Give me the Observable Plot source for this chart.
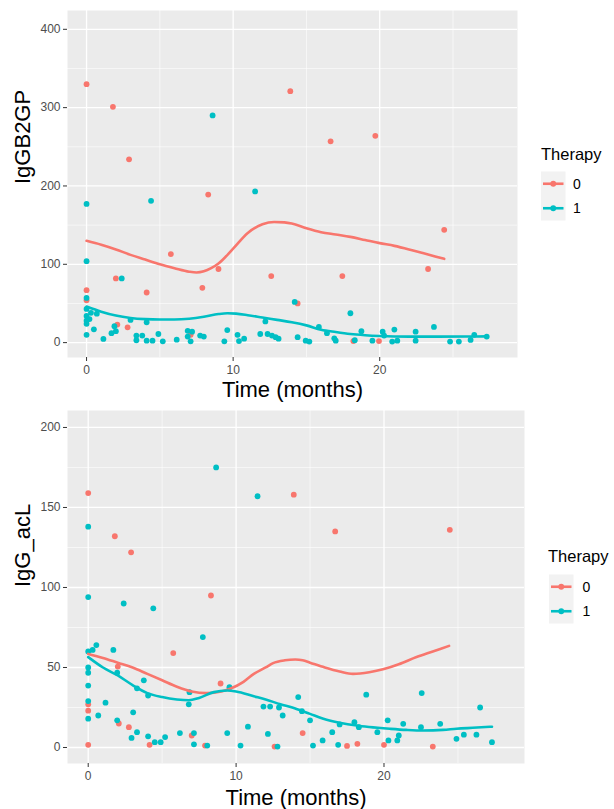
<!DOCTYPE html>
<html>
<head>
<meta charset="utf-8">
<script src="https://cdn.jsdelivr.net/npm/d3@7"></script>
<script src="https://cdn.jsdelivr.net/npm/@observablehq/plot@0.6"></script>
<style>
  body { margin: 0; background: white; }
  #wrap { position: relative; width: 614px; height: 809px; background: white; font-family: 'Liberation Sans', Arial, sans-serif; }
  .panel { position: absolute; left: 0; }
  .panel svg { display: block; }
  .legend { position: absolute; }
</style>
</head>
<body>
<div id="wrap">
  <div id="p1" class="panel" style="top:0"></div>
  <div id="p2" class="panel" style="top:400px"></div>
  <svg class="legend" id="lg1" style="left:530px;top:140px" width="84" height="90"></svg>
  <svg class="legend" id="lg2" style="left:537px;top:540px" width="77" height="90"></svg>
</div>
<script>
// ---------- data ----------
const therapyLevels = ["0", "1"];
const therapyColors = ["#F8766D", "#00BFC4"];
const xTitle = "Time (months)";
const legendTitle = "Therapy";

const xTicks = [0, 10, 20];
const xMinor = [5, 15, 25];

// Panel 1: IgGB2GP
const title1 = "IgGB2GP";
const y1Ticks = [0, 100, 200, 300, 400];
const y1Minor = [50, 150, 250, 350];
const igb2gp_ther0 = [[0,330],[1.8,301],[2.9,234],[8.3,189],[5.75,113],[9.0,94],[2.0,82],[7.9,70],[4.1,64],[0,67],[0,54],[2.1,23],[2.8,19.5],[7.1,10],[12.6,85],[13.9,321],[16.65,257],[19.7,264],[24.4,144],[23.3,94],[17.45,85],[14.4,50],[18.2,2],[19.95,2]];
const igb2gp_ther1 = [[0,177],[0,104],[0,57],[0,43],[0,34],[0,28],[0,24],[0,10],[0.2,30],[0.3,38],[0.7,37],[0.5,17],[1.15,4.7],[1.7,12],[2.0,14.6],[1.9,21],[2.4,82],[3.0,29],[3.4,9],[3.4,3],[3.8,9],[4.1,2.5],[4.1,26],[4.4,181],[4.5,2.5],[4.9,11],[5.2,1.7],[6.15,3.8],[6.9,15],[7.2,14],[6.9,7.7],[7.1,1.7],[7.75,9],[8.0,7.7],[8.6,290],[9.4,1.7],[9.6,16],[10.3,10],[10.4,2],[10.75,5],[11.5,193],[11.85,11],[12.2,27],[12.35,11],[12.65,9],[12.9,7],[13.1,5],[14.2,52],[14.4,7],[14.95,2.5],[15.2,1.3],[15.85,20],[16.4,12],[16.9,5.5],[17.0,2.5],[18.0,37.5],[18.3,3],[18.75,14.5],[19.5,2.5],[20.2,14],[20.3,9],[20.85,1.3],[21.0,16.6],[21.2,2.5],[22.45,14],[22.45,2.5],[23.7,20],[24.8,1.3],[25.4,1.3],[26.2,3.4],[26.45,10],[27.3,7.7]];
const igb2gp_fit0 = [[0,130],[1,125],[2,119],[3,112],[4,106],[5,100],[6,95],[7,90.5],[7.5,89.5],[8,91],[8.5,95],[9,101],[10,120],[11,140],[12,151],[12.8,154],[13.5,153.5],[14,152],[15,146],[16,141],[17,138],[18,135],[19,131],[20,127],[21,123.5],[22,119],[23,114],[24.4,107]];
const igb2gp_fit1 = [[0,46],[1,39.5],[2,34.5],[3,31.5],[4,30],[5,29.5],[6,29.5],[7,30.5],[8,33],[9,36.5],[9.6,37.5],[10.2,37],[11,35],[12,32],[13,29],[14,26],[15,22],[16,16.5],[17,13.5],[18,11],[19,9.5],[20,8.5],[21,7.9],[22,7.7],[24,7.7],[26,7.8],[27.3,8]];

// Panel 2: IgG_acL
const title2 = "IgG_acL";
const y2Ticks = [0, 50, 100, 150, 200];
const y2Minor = [25, 75, 125, 175];
const igacl_ther0 = [[0,159],[1.8,132],[2.9,122],[8.3,95],[5.75,59],[2.0,50.6],[8.95,40],[0,27],[0,23],[2.07,15],[2.75,12.7],[7.0,7.5],[0,1.7],[4.15,1.7],[7.9,1.2],[12.6,0.6],[13.9,158],[16.7,135],[24.45,136],[14.5,9],[17.5,1],[18.2,2.3],[20.0,1.7],[23.3,0.6]];
const igacl_ther1 = [[0,138],[0,94],[0,60],[0.3,61],[0.55,64],[0,50],[0,46.7],[0,38.7],[0,29],[0,18],[0.68,20],[1.17,28],[1.7,61],[1.96,46.7],[1.96,17],[2.4,90],[3.04,22],[2.93,6],[3.3,9.6],[3.3,37],[3.76,42],[4.05,32.5],[4.05,7],[4.4,87],[4.5,3.3],[4.9,3.3],[5.2,6.5],[6.2,9],[6.85,34.6],[6.8,27],[7.15,9],[7.15,2],[7.75,69],[8.05,1.2],[8.65,175],[9.4,9],[9.55,37.7],[10.3,1.2],[10.8,13],[11.45,157],[11.85,25.6],[12.15,8.5],[12.3,25.6],[12.8,0.6],[12.9,25],[13.15,20],[14.2,31.5],[14.45,22.7],[15.0,17],[15.2,1.2],[15.85,4.4],[16.5,9.6],[16.9,1.7],[17.0,14.4],[18.0,15.8],[18.3,12.7],[18.8,33],[19.55,9.6],[20.25,17],[20.3,4.4],[20.9,4.4],[21.0,7.5],[21.3,14.8],[22.5,12.7],[22.55,34],[23.8,14.8],[24.9,5.4],[25.4,8],[26.25,8],[26.5,25],[27.3,3.3]];
const igacl_fit0 = [[0,58.5],[1,56],[2,53],[3,50],[4,46],[5,42],[6,38],[7,35],[8,34],[9,35],[9.6,36.7],[10.5,41],[11.2,46],[12,50],[12.5,52.7],[13.3,54.5],[14,55],[14.5,54.5],[15,53],[16,50],[17,47.5],[17.9,46],[19,47],[20,49],[21,52],[22.2,56.5],[23.3,60],[24.4,63.5]];
const igacl_fit1 = [[0,56.5],[1,50],[2,45],[3,39],[4,34],[5,31.5],[6,30],[6.8,29.5],[7.5,31],[8.5,34.6],[9.4,35.6],[10,35],[11.2,32],[12,30],[13,27],[13.8,25],[15,21],[15.9,18],[17,15.5],[18.15,13.7],[19,12.8],[20.4,11.7],[21.5,11],[22.65,10.6],[24,11],[24.9,11.7],[26,12.3],[27.3,13]];

// ---------- helpers ----------
const rows = (pairs, therapy) => pairs.map(([t, v]) => ({t, v, therapy}));
const FONT = "'Liberation Sans', Arial, Helvetica, sans-serif";

function panel({title, pts0, pts1, fit0, fit1, yTicks, yMinor, xDomain, yDomain, height, margins, titleDy}) {
  const pts = [...rows(pts0, "0"), ...rows(pts1, "1")];
  const fit = [...rows(fit0, "0"), ...rows(fit1, "1")];
  return Plot.plot({
    width: 614,
    height,
    ...margins,
    style: {fontFamily: FONT, fontSize: "12px", background: "transparent", color: "#4D4D4D", overflow: "visible"},
    x: {domain: xDomain},
    y: {domain: yDomain},
    color: {domain: therapyLevels, range: therapyColors},
    marks: [
      Plot.frame({fill: "#EBEBEB", stroke: "none"}),
      Plot.ruleX(xMinor, {stroke: "white", strokeWidth: 0.6}),
      Plot.ruleY(yMinor, {stroke: "white", strokeWidth: 0.6}),
      Plot.ruleX(xTicks, {stroke: "white", strokeWidth: 1.3}),
      Plot.ruleY(yTicks, {stroke: "white", strokeWidth: 1.3}),
      Plot.dot(pts, {x: "t", y: "v", fill: "therapy", r: 2.9}),
      Plot.line(fit, {x: "t", y: "v", stroke: "therapy", z: "therapy", strokeWidth: 2.6, curve: "monotone-x"}),
      Plot.axisX({ticks: xTicks, tickSize: 4, tickPadding: 4, stroke: "#333333", fill: "#4D4D4D", fontSize: 12, label: null}),
      Plot.axisY({ticks: yTicks, tickSize: 4, tickPadding: 3, stroke: "#333333", fill: "#4D4D4D", fontSize: 12, label: null}),
      Plot.text([xTitle], {text: d => d, frameAnchor: "bottom", lineAnchor: "middle", dy: titleDy, fontSize: 22, fill: "black"}),
      Plot.text([title], {text: d => d, frameAnchor: "left", lineAnchor: "middle", rotate: -90, dx: -45, fontSize: 22, fill: "black"})
    ]
  });
}

document.getElementById("p1").append(panel({
  title: title1, pts0: igb2gp_ther0, pts1: igb2gp_ther1, fit0: igb2gp_fit0, fit1: igb2gp_fit1,
  yTicks: y1Ticks, yMinor: y1Minor, xDomain: [-1.3, 29.4], yDomain: [-19, 424],
  height: 400, margins: {marginLeft: 67, marginRight: 97, marginTop: 10, marginBottom: 43}, titleDy: 32
}));
document.getElementById("p2").append(panel({
  title: title2, pts0: igacl_ther0, pts1: igacl_ther1, fit0: igacl_fit0, fit1: igacl_fit1,
  yTicks: y2Ticks, yMinor: y2Minor, xDomain: [-1.4, 29.5], yDomain: [-10, 210.6],
  height: 409, margins: {marginLeft: 67, marginRight: 90, marginTop: 10, marginBottom: 46}, titleDy: 34
}));

// ---------- legends ----------
function legend(svgId, {tx, ty, kx, ky, lx}) {
  const svg = d3.select("#" + svgId);
  svg.append("text").attr("x", tx).attr("y", ty).attr("font-family", FONT).attr("font-size", 16.5).attr("fill", "black").text(legendTitle);
  therapyLevels.forEach((lev, i) => {
    const cy = ky + 12.25 + i * 24.5;
    svg.append("rect").attr("x", kx).attr("y", ky + i * 24.5).attr("width", 24.5).attr("height", 24.5).attr("fill", "#F2F2F2");
    svg.append("line").attr("x1", kx + 2).attr("x2", kx + 22.5).attr("y1", cy).attr("y2", cy).attr("stroke", therapyColors[i]).attr("stroke-width", 2.6);
    svg.append("circle").attr("cx", kx + 12.25).attr("cy", cy).attr("r", 2.9).attr("fill", therapyColors[i]);
    svg.append("text").attr("x", lx).attr("y", cy + 5).attr("font-family", FONT).attr("font-size", 14).attr("fill", "black").text(lev);
  });
}
legend("lg1", {tx: 11, ty: 20, kx: 11, ky: 31.5, lx: 43});
legend("lg2", {tx: 11, ty: 22, kx: 12, ky: 34.5, lx: 45.5});
</script>
</body>
</html>
